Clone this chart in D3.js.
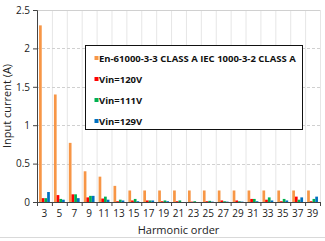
<!DOCTYPE html>
<html lang="en">
<head>
<meta charset="UTF-8">
<title>Harmonic current</title>
<script src="https://d3js.org/d3.v7.min.js"></script>
<style>
  body { margin: 0; background: #fff; }
  text { font-family: "Open Sans", "DejaVu Sans", sans-serif; fill: #222; }
</style>
</head>
<body>
<div id="chart"></div>
<script>
var orders = [3, 5, 7, 9, 11, 13, 15, 17, 19, 21, 23, 25, 27, 29, 31, 33, 35, 37, 39];
var limitA = [2.30, 1.40, 0.77, 0.40, 0.33, 0.21, 0.15, 0.15, 0.15, 0.15, 0.15, 0.15, 0.15, 0.15, 0.15, 0.15, 0.15, 0.15, 0.15];
var vin120 = [0.05, 0.09, 0.10, 0.06, 0.045, 0.01, 0.02, 0.02, 0.01, 0.01, 0.005, 0.01, 0.02, 0.02, 0.04, 0.03, 0.01, 0.07, 0.01];
var vin111 = [0.05, 0.04, 0.10, 0.08, 0.07, 0.03, 0.04, 0.02, 0.02, 0.02, 0.01, 0.015, 0.01, 0.01, 0.04, 0.06, 0.04, 0.03, 0.04];
var vin129 = [0.13, 0.03, 0.05, 0.08, 0.03, 0.02, 0.01, 0.02, 0.01, 0.0, 0.0, 0.005, 0.005, 0.005, 0.01, 0.02, 0.02, 0.06, 0.07];
var seriesNames = ["En-61000-3-3 CLASS A IEC 1000-3-2 CLASS A", "Vin=120V", "Vin=111V", "Vin=129V"];
var seriesColors = ["#F79646", "#FF0000", "#00B050", "#0070C0"];
var yTicks = [0, 0.5, 1, 1.5, 2, 2.5];

var W = 325, H = 241;
var margin = {top: 10, right: 5, bottom: 39, left: 37};
var width = W - margin.left - margin.right;
var height = H - margin.top - margin.bottom;

var svg = d3.select("#chart").append("svg")
    .attr("width", W).attr("height", H);

svg.append("line")
    .attr("x1", 0).attr("x2", W).attr("y1", 237.5).attr("y2", 237.5)
    .style("stroke", "#d9d9d9");

var g = svg.append("g")
    .attr("transform", "translate(" + margin.left + "," + margin.top + ")");

var x = d3.scaleBand().domain(orders).range([0, width])
    .paddingInner(1.5 / 5.5).paddingOuter(0.75 / 5.5);
var x1 = d3.scaleBand().domain(d3.range(4)).range([0, x.bandwidth()]);
var y = d3.scaleLinear().domain([0, 2.5]).range([height, 0]);

// vertical grid at category boundaries
var step = width / orders.length;
g.append("g").selectAll("line")
    .data(d3.range(1, orders.length + 1))
    .enter().append("line")
    .attr("x1", d => d * step + 0.5).attr("x2", d => d * step + 0.5)
    .attr("y1", 0).attr("y2", height)
    .style("stroke", "#e6e6e6");

// horizontal grid
g.append("g").selectAll("line")
    .data(yTicks.slice(1))
    .enter().append("line")
    .attr("x1", 0).attr("x2", width)
    .attr("y1", d => Math.round(y(d)) + 0.5).attr("y2", d => Math.round(y(d)) + 0.5)
    .style("stroke", "#d0d0d0")
    .style("stroke-dasharray", d => d === 2.5 ? null : "3,2");

var data = orders.map((o, i) => ({order: o, values: [limitA[i], vin120[i], vin111[i], vin129[i]]}));

var groups = g.selectAll(".grp").data(data).enter().append("g")
    .attr("transform", d => "translate(" + x(d.order) + ",0)");
groups.selectAll("rect")
    .data(d => d.values)
    .enter().append("rect")
    .attr("x", (d, i) => x1(i))
    .attr("width", x1.bandwidth())
    .attr("y", d => y(d))
    .attr("height", d => height - y(d))
    .style("fill", (d, i) => seriesColors[i]);

// y axis
var yAxis = g.append("g")
    .call(d3.axisLeft(y).tickValues(yTicks).tickFormat(d3.format("")).tickSize(4).tickPadding(3));
yAxis.select(".domain").style("stroke", "#444");
yAxis.selectAll(".tick line").style("stroke", "#444");
yAxis.selectAll("text").style("font-size", "10px");

// x axis
var xAxis = g.append("g")
    .attr("transform", "translate(0," + height + ")")
    .call(d3.axisBottom(x).tickSize(0).tickPadding(8));
xAxis.select(".domain").remove();
xAxis.append("line")
    .attr("x1", 0).attr("x2", width).attr("y1", 0.5).attr("y2", 0.5)
    .style("stroke", "#444");
xAxis.selectAll(".sep").data(d3.range(0, orders.length + 1)).enter().append("line")
    .attr("x1", d => d * step + 0.5).attr("x2", d => d * step + 0.5)
    .attr("y1", 0).attr("y2", 4)
    .style("stroke", "#444");
xAxis.selectAll("text").style("font-size", "10px");

svg.append("text")
    .attr("x", margin.left + width / 2).attr("y", 234)
    .attr("text-anchor", "middle")
    .style("font-size", "11px")
    .text("Harmonic order");

svg.append("text")
    .attr("transform", "translate(11," + (margin.top + height / 2) + ") rotate(-90)")
    .attr("text-anchor", "middle")
    .style("font-size", "11px")
    .text("Input current (A)");

// legend
var legend = svg.append("g").attr("transform", "translate(85.5,45.5)");
legend.append("rect")
    .attr("width", 217).attr("height", 84)
    .style("fill", "#fff").style("stroke", "#111");
var items = legend.selectAll(".item").data(seriesNames).enter().append("g")
    .attr("transform", (d, i) => "translate(9," + (13 + i * 21) + ")");
items.append("rect")
    .attr("x", 0).attr("y", -2.5).attr("width", 4).attr("height", 4)
    .style("fill", (d, i) => seriesColors[i]);
items.append("text")
    .attr("x", 4.5).attr("dy", "0.35em")
    .style("font-size", "9.5px").style("font-weight", "bold").style("fill", "#111")
    .text(d => d);
</script>
</body>
</html>
